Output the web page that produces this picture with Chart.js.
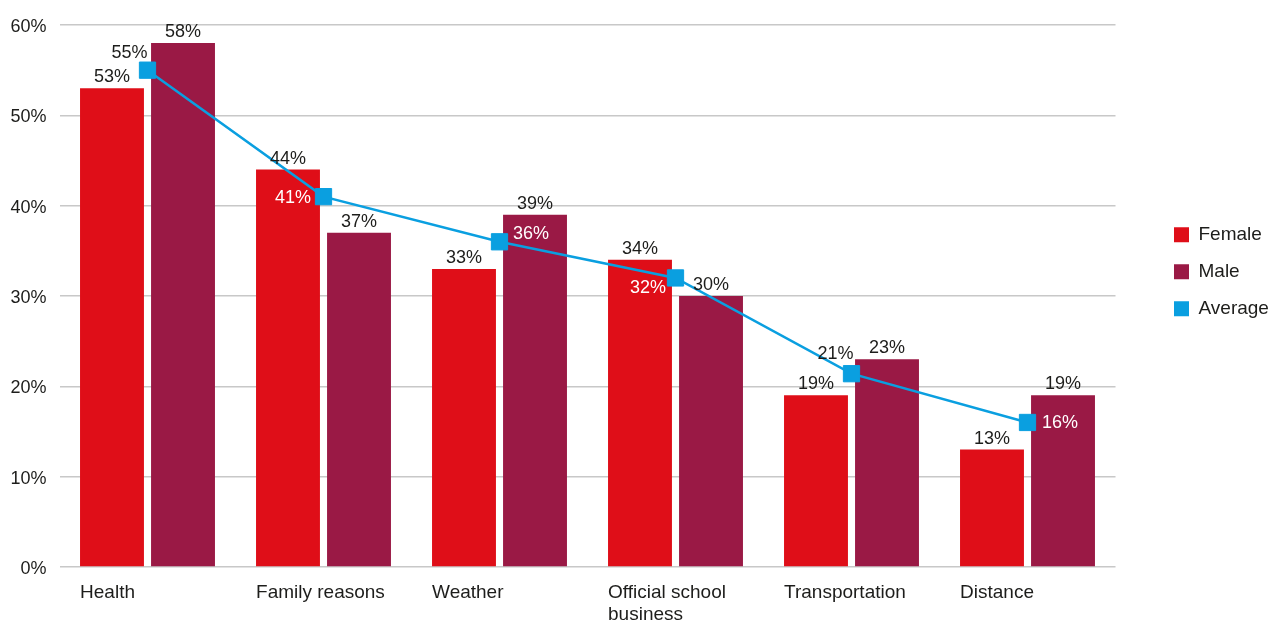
<!DOCTYPE html>
<html><head><meta charset="utf-8">
<script src="https://cdn.jsdelivr.net/npm/chart.js@4"></script>
<style>html,body{margin:0;padding:0;background:#fff;overflow:hidden}</style>
</head><body>
<canvas id="c" width="1274" height="623"></canvas>
<script>
// ---- data ----
const categories = ['Health', 'Family reasons', 'Weather', ['Official school', 'business'], 'Transportation', 'Distance'];
const female = [53, 44, 33, 34, 19, 13];
const male = [58, 37, 39, 30, 23, 19];
const average = [55, 41, 36, 32, 21.4, 16];
const yMin = 0, yMax = 60, yStep = 10;

// ---- styles ----
const C_FEMALE = '#df0e18';
const C_MALE = '#9a1945';
const C_AVG = '#0a9fe0';
const C_TEXT = '#1d1d1b';
const FONT = "'Liberation Sans', Arial, sans-serif";
const avgLabelStyle = [
  {align: 'right', dx: 0, dy: -12, color: C_TEXT},
  {align: 'right', dx: -12.5, dy: 6.5, color: '#ffffff'},
  {align: 'left', dx: 13.5, dy: -2.5, color: '#ffffff'},
  {align: 'right', dx: -9.5, dy: 15.5, color: '#ffffff'},
  {align: 'right', dx: 2, dy: -14.5, color: C_TEXT},
  {align: 'left', dx: 14.5, dy: 6, color: '#ffffff'}
];

Chart.defaults.font.family = FONT;
Chart.defaults.color = C_TEXT;

const layoutPlugin = {
  id: 'layoutTweaks',
  afterInit(chart) {
    const lg = chart.legend;
    if (lg && !lg._wrapped) {
      const orig = lg.fit;
      lg.fit = function () { orig.call(this); this.width = 158.5; };
      lg._wrapped = true;
    }
  },
  afterLayout(chart) {
    const lg = chart.legend;
    if (!lg) return;
    lg.left = 1156; lg.right = 1156 + 118; lg.width = 118;
    lg.top = 0; lg.bottom = 543.6; lg.height = 543.6;
  }
};

const labelPlugin = {
  id: 'valueLabels',
  afterDatasetsDraw(chart) {
    const ctx = chart.ctx;
    ctx.save();
    ctx.font = '18px ' + FONT;
    ctx.textBaseline = 'alphabetic';
    [0, 1].forEach(di => {
      const meta = chart.getDatasetMeta(di);
      const vals = chart.data.datasets[di].data;
      meta.data.forEach((bar, i) => {
        ctx.fillStyle = C_TEXT;
        ctx.textAlign = 'center';
        ctx.fillText(Math.round(vals[i]) + '%', bar.x, bar.y - 6);
      });
    });
    const lm = chart.getDatasetMeta(2);
    const lv = chart.data.datasets[2].data;
    lm.data.forEach((pt, i) => {
      const s = avgLabelStyle[i];
      ctx.fillStyle = s.color;
      ctx.textAlign = s.align;
      ctx.fillText(Math.round(lv[i]) + '%', pt.x + s.dx, pt.y + s.dy);
    });
    ctx.restore();
  }
};

new Chart(document.getElementById('c'), {
  data: {
    labels: categories,
    datasets: [
      {type: 'bar', label: 'Female', data: female, backgroundColor: C_FEMALE, borderWidth: 0, order: 2,
        categoryPercentage: 0.807, barPercentage: 0.9},
      {type: 'bar', label: 'Male', data: male, backgroundColor: C_MALE, borderWidth: 0, order: 2,
        categoryPercentage: 0.807, barPercentage: 0.9},
      {type: 'line', label: 'Average', data: average, borderColor: C_AVG, backgroundColor: C_AVG,
        borderWidth: 2.5, tension: 0, pointStyle: 'rect', pointRadius: 11.5, pointBorderWidth: 1,
        pointBackgroundColor: C_AVG, pointBorderColor: C_AVG, order: 0}
    ]
  },
  options: {
    responsive: false,
    animation: false,
    devicePixelRatio: 1,
    layout: {padding: {top: 25, left: 0, right: 0, bottom: 0}},
    scales: {
      x: {
        grid: {display: false, drawTicks: false},
        border: {display: false},
        ticks: {align: 'start', labelOffset: -67.45, padding: 14, font: {size: 19}, color: C_TEXT, maxRotation: 0, autoSkip: false},
        afterFit(s) { s.height = 56; }
      },
      y: {
        min: yMin, max: yMax,
        grid: {color: '#c8c8c8', lineWidth: 1.5, drawTicks: false},
        border: {display: false},
        ticks: {stepSize: yStep, padding: 13, labelOffset: 2, font: {size: 18}, color: C_TEXT, callback: v => v + '%'},
        afterFit(s) { s.width = 59.5; }
      }
    },
    plugins: {
      tooltip: {enabled: false},
      legend: {
        position: 'right',
        labels: {
          boxWidth: 15, boxHeight: 15, padding: 18, font: {size: 19}, color: C_TEXT,
          sort: (a, b) => a.datasetIndex - b.datasetIndex,
          generateLabels(chart) {
            const items = Chart.defaults.plugins.legend.labels.generateLabels(chart);
            items.forEach(it => { it.lineWidth = 0; it.strokeStyle = it.fillStyle; });
            return items;
          }
        }
      }
    }
  },
  plugins: [layoutPlugin, labelPlugin]
});
</script>
</body></html>
